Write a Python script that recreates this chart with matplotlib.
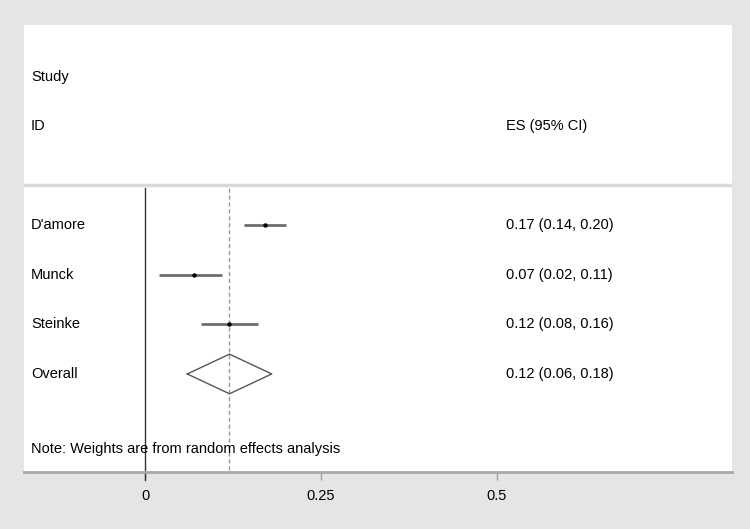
import matplotlib.pyplot as plt
import numpy as np

studies = ["D'amore", "Munck", "Steinke"]
es = [0.17, 0.07, 0.12]
lo = [0.14, 0.02, 0.08]
hi = [0.20, 0.11, 0.16]
overall_label = "Overall"
overall_es = 0.12
overall_lo = 0.06
overall_hi = 0.18
ticks = [0, 0.25, 0.5]
tick_labels = ["0", "0.25", "0.5"]
note = "Note: Weights are from random effects analysis"

bg = "#e4e5e7"
plt.rcParams['font.family'] = ['Liberation Sans', 'DejaVu Sans']

fig = plt.figure(figsize=(7.5, 5.29), dpi=100, facecolor=bg)
ax = fig.add_axes([0.032, 0.1078, 0.944, 0.845])
ax.set_facecolor("white")

rows = np.arange(len(studies)) + 3
ov_row = 6
sep_row = 2.19

# CI lines and point estimates
ax.hlines(rows, lo, hi, color="#6e6e6e", lw=2, zorder=2)
ax.plot(es, rows, "o", color="black", ms=2.2, zorder=3)

# overall diamond
dx = [overall_lo, overall_es, overall_hi, overall_es, overall_lo]
dy = [ov_row, ov_row - 0.4, ov_row, ov_row + 0.4, ov_row]
ax.plot(dx, dy, color="#555555", lw=1, zorder=3)

# reference lines
ax.plot([0, 0], [sep_row + 0.05, 8.15], color="#333333", lw=1, clip_on=False, zorder=2)
ax.plot([overall_es, overall_es], [sep_row + 0.05, 7.98], color="#9a9a9a", lw=1,
        ls=(0, (3, 2)), zorder=1)

# header separator
ax.axhline(sep_row, color="#d8d9db", lw=2.5, zorder=4)

fs = 10.5
tr = ax.get_yaxis_transform()
ax.text(0.01, 0, "Study", transform=tr, fontsize=fs, va="center")
ax.text(0.01, 1, "ID", transform=tr, fontsize=fs, va="center")
ax.text(0.681, 1, "ES (95% CI)", transform=tr, fontsize=fs, va="center")
for r, name, e, l, h in zip(rows, studies, es, lo, hi):
    ax.text(0.01, r, name, transform=tr, fontsize=fs, va="center")
    ax.text(0.681, r, "%.2f (%.2f, %.2f)" % (e, l, h), transform=tr, fontsize=fs, va="center")
ax.text(0.01, ov_row, overall_label, transform=tr, fontsize=fs, va="center")
ax.text(0.681, ov_row, "%.2f (%.2f, %.2f)" % (overall_es, overall_lo, overall_hi),
        transform=tr, fontsize=fs, va="center")
ax.text(0.01, 7.52, note, transform=tr, fontsize=fs, va="center")

ax.set_xlim(-0.1719, 0.8338)
ax.set_ylim(7.98, -1.05)
ax.set_xticks(ticks)
ax.set_xticklabels(tick_labels, fontsize=fs)
ax.set_yticks([])
for s in ["top", "left", "right"]:
    ax.spines[s].set_visible(False)
ax.spines["bottom"].set_color("#a8a8a8")
ax.spines["bottom"].set_linewidth(2)
ax.tick_params(axis="x", length=6, width=1, color="#a0a0a0", pad=6)

fig.savefig("out.png", dpi=100, facecolor=bg)
